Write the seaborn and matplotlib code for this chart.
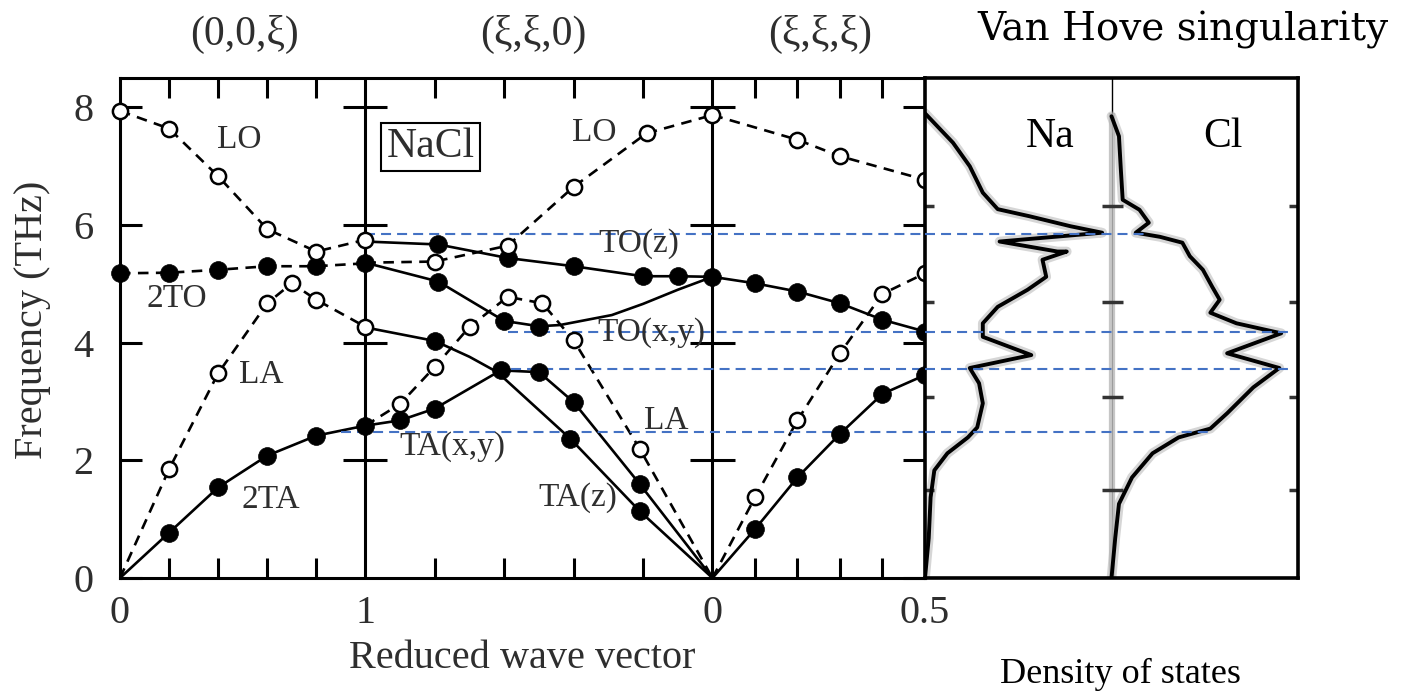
import numpy as np
import matplotlib.pyplot as plt
import seaborn as sns

W, H = 1406, 693
SQ2, SQ3 = np.sqrt(2), np.sqrt(3)

# ---- phonon branches, (0,0,xi): Gamma -> X ----
g1_lo_xi = [0, 0.2, 0.4, 0.6, 0.8, 1.0]
g1_lo_f = [7.94, 7.64, 6.83, 5.93, 5.55, 5.75]
g1_la_xi = [0, 0.2, 0.4, 0.6, 0.7, 0.8, 1.0]
g1_la_f = [0, 1.85, 3.48, 4.67, 5.01, 4.73, 4.27]
g1_to_xi = [0, 0.2, 0.4, 0.6, 0.8, 1.0]
g1_to_f = [5.18, 5.19, 5.24, 5.30, 5.30, 5.35]
g1_ta_xi = [0, 0.2, 0.4, 0.6, 0.8, 1.0]
g1_ta_f = [0, 0.77, 1.54, 2.08, 2.42, 2.59]

g1_full_xi = [0, 0.2, 0.4, 0.6, 0.8, 1.0, 0.2, 0.4, 0.6, 0.8, 1.0]
g1_full_f = [5.18, 5.19, 5.24, 5.30, 5.30, 5.35, 0.77, 1.54, 2.08, 2.42, 2.59]
g1_open_xi = [0, 0.2, 0.4, 0.6, 0.8, 1.0, 0.2, 0.4, 0.6, 0.7, 0.8, 1.0]
g1_open_f = [7.94, 7.64, 6.83, 5.93, 5.55, 5.75, 1.85, 3.48, 4.67, 5.01, 4.73, 4.27]

# ---- (xi,xi,0): X -> Gamma ----
g2_toz_xi = [1.0, 0.79, 0.59, 0.40, 0.20, 0.10, 0]
g2_toz_f = [5.72, 5.67, 5.44, 5.30, 5.13, 5.13, 5.12]
g2_toxy_xi = [1.0, 0.79, 0.60, 0.50, 0.44, 0.29, 0.20, 0.10, 0]
g2_toxy_f = [5.36, 5.04, 4.37, 4.28, 4.30, 4.47, 4.66, 4.90, 5.12]
g2_taz_xi = [1.0, 0.80, 0.70, 0.62, 0.41, 0.21, 0]
g2_taz_f = [4.26, 4.03, 3.76, 3.50, 2.37, 1.14, 0]
g2_taxy_xi = [1.0, 0.90, 0.80, 0.61, 0.50, 0.40, 0.21, 0]
g2_taxy_f = [2.59, 2.68, 2.88, 3.53, 3.50, 2.99, 1.60, 0]
g2_lo_xi = [1.0, 0.80, 0.59, 0.40, 0.19, 0]
g2_lo_f = [5.36, 5.38, 5.65, 6.65, 7.56, 7.87]
g2_la_xi = [1.0, 0.90, 0.80, 0.70, 0.59, 0.49, 0.40, 0.21, 0]
g2_la_f = [2.59, 2.96, 3.59, 4.27, 4.78, 4.67, 4.04, 2.20, 0]

g2_full_xi = [0.79, 0.59, 0.40, 0.20, 0.10, 0, 0.79, 0.60, 0.50, 0.80, 0.61, 0.50,
              0.40, 0.41, 0.21, 0.21, 0.90, 0.80]
g2_full_f = [5.67, 5.44, 5.30, 5.13, 5.13, 5.12, 5.04, 4.37, 4.27, 4.03, 3.53, 3.50,
             2.99, 2.37, 1.60, 1.14, 2.68, 2.88]
g2_open_xi = [0.80, 0.59, 0.40, 0.19, 0, 0.59, 0.49, 0.70, 0.80, 0.90, 0.40, 0.21]
g2_open_f = [5.38, 5.65, 6.65, 7.56, 7.87, 4.78, 4.67, 4.27, 3.59, 2.96, 4.04, 2.20]

# ---- (xi,xi,xi): Gamma -> L ----
g3_lo_xi = [0, 0.2, 0.3, 0.5]
g3_lo_f = [7.87, 7.45, 7.17, 6.77]
g3_la_xi = [0, 0.1, 0.2, 0.3, 0.4, 0.5]
g3_la_f = [0, 1.37, 2.68, 3.82, 4.83, 5.18]
g3_to_xi = [0, 0.1, 0.2, 0.3, 0.4, 0.5]
g3_to_f = [5.12, 5.01, 4.87, 4.67, 4.39, 4.19]
g3_ta_xi = [0, 0.1, 0.2, 0.3, 0.4, 0.5]
g3_ta_f = [0, 0.83, 1.71, 2.45, 3.13, 3.45]

g3_full_xi = [0.1, 0.2, 0.3, 0.4, 0.5, 0.1, 0.2, 0.3, 0.4, 0.5]
g3_full_f = [5.01, 4.87, 4.67, 4.39, 4.19, 0.83, 1.71, 2.45, 3.13, 3.45]
g3_open_xi = [0.2, 0.3, 0.5, 0.1, 0.2, 0.3, 0.4, 0.5]
g3_open_f = [7.45, 7.17, 6.77, 1.37, 2.68, 3.82, 4.83, 5.18]

# ---- density of states (arbitrary units, each half 0..1) ----
na_f = [7.90, 7.40, 7.00, 6.55, 6.27, 6.15, 5.98, 5.87, 5.72, 5.55, 5.55, 5.41, 5.12,
        4.90, 4.61, 4.33, 4.10, 3.79, 3.57, 3.31, 2.97, 2.56, 2.39, 2.12, 1.83, 1.37,
        0.68, 0.0]
na_dos = [0.0, 0.15, 0.24, 0.31, 0.39, 0.56, 0.78, 0.95, 0.40, 0.71, 0.76, 0.63, 0.65,
          0.55, 0.39, 0.31, 0.31, 0.57, 0.24, 0.29, 0.31, 0.28, 0.23, 0.12, 0.05, 0.03,
          0.02, 0.0]
cl_f = [7.85, 7.51, 6.95, 6.43, 6.26, 6.04, 5.87, 5.80, 5.70, 5.47, 5.24, 4.95, 4.73,
        4.51, 4.33, 4.16, 3.82, 3.57, 3.24, 2.80, 2.54, 2.39, 2.12, 1.71, 1.26, 0.68, 0.0]
cl_dos = [0.0, 0.04, 0.05, 0.06, 0.15, 0.20, 0.13, 0.26, 0.38, 0.42, 0.49, 0.54, 0.58,
          0.53, 0.67, 0.91, 0.62, 0.90, 0.76, 0.62, 0.53, 0.36, 0.22, 0.11, 0.04, 0.02,
          0.0]
dos_tick_f = [6.32, 4.70, 3.08, 1.50]

# Van Hove levels (THz) and where each guide line starts / stops
vh_f = [5.85, 4.18, 3.55, 2.48]
vh_start = [1.0, 1.58, 1.53, 0.90]
vh_stop_dos = [1.18, 1.97, 1.96, 1.54]

freq_ticks = [0, 2, 4, 6, 8]
x_tick_labels = ["0", "1", "0", "0.5"]


def path_x(seg, xi):
    xi = np.asarray(xi, dtype=float)
    if seg == 0:
        return xi
    if seg == 1:
        return 1 + SQ2 * (1 - xi)
    return 1 + SQ2 + SQ3 * xi


def px(x, y):
    return x / W, 1 - y / H


sns.set_theme(style="white")
plt.rcParams["font.family"] = ["Liberation Serif", "DejaVu Serif"]

TXT = "#2e2e2e"
DASH = (0, (4, 2.8))
X_END = 1 + SQ2 + SQ3 / 2

fig = plt.figure(figsize=(W / 100, H / 100), dpi=100)
ax = fig.add_axes([120 / W, 115 / H, 805 / W, 500 / H])
ax2 = fig.add_axes([925 / W, 115 / H, 373 / W, 500 / H])

branches = [
    (0, g1_lo_xi, g1_lo_f, DASH), (0, g1_la_xi, g1_la_f, DASH),
    (0, g1_to_xi, g1_to_f, DASH), (0, g1_ta_xi, g1_ta_f, "-"),
    (1, g2_toz_xi, g2_toz_f, "-"), (1, g2_toxy_xi, g2_toxy_f, "-"),
    (1, g2_taz_xi, g2_taz_f, "-"), (1, g2_taxy_xi, g2_taxy_f, "-"),
    (1, g2_lo_xi, g2_lo_f, DASH), (1, g2_la_xi, g2_la_f, DASH),
    (2, g3_lo_xi, g3_lo_f, DASH), (2, g3_la_xi, g3_la_f, DASH),
    (2, g3_to_xi, g3_to_f, "-"), (2, g3_ta_xi, g3_ta_f, "-"),
]
for seg, xi, f, ls in branches:
    sns.lineplot(x=path_x(seg, xi), y=f, sort=False, estimator=None, color="black",
                 linewidth=1.9, linestyle=ls, ax=ax, zorder=3)

for seg, xi, f in [(0, g1_full_xi, g1_full_f), (1, g2_full_xi, g2_full_f),
                   (2, g3_full_xi, g3_full_f)]:
    sns.scatterplot(x=path_x(seg, xi), y=f, s=165, color="black", edgecolor="black",
                    linewidth=0.5, ax=ax, zorder=5, clip_on=False)
for seg, xi, f in [(0, g1_open_xi, g1_open_f), (1, g2_open_xi, g2_open_f),
                   (2, g3_open_xi, g3_open_f)]:
    sns.scatterplot(x=path_x(seg, xi), y=f, s=120, color="white", edgecolor="black",
                    linewidth=1.8, ax=ax, zorder=6, clip_on=False)

# symmetry-point verticals and their cross ticks
for p in [1, 1 + SQ2]:
    ax.axvline(p, color="black", lw=2.2, zorder=2)
    ax.hlines(freq_ticks[1:], p - 0.09, p + 0.09, color="black", lw=2.2, zorder=2)

# Van Hove guide lines (blue, dashed) across both panels
blue = "#4472C4"
ax.hlines(vh_f, vh_start, X_END, color=blue, lw=1.5, linestyle=(0, (4.8, 2.9)), zorder=4)
ax2.hlines(vh_f, 0, vh_stop_dos, color=blue, lw=1.5, linestyle=(0, (4.8, 2.9)), zorder=4)

ax.set_xlim(0, X_END)
ax.set_ylim(0, 8.5)
ax.set_xticks([0, 1, 1 + SQ2, X_END], labels=x_tick_labels)
minor = np.concatenate([path_x(0, [0.2, 0.4, 0.6, 0.8]), path_x(1, [0.8, 0.6, 0.4, 0.2]),
                        path_x(2, [0.1, 0.2, 0.3, 0.4])])
ax.set_xticks(minor, minor=True)
ax.set_yticks(freq_ticks)
ax.tick_params(axis="x", which="major", length=0, pad=12, labelsize=29, labelcolor=TXT)
ax.tick_params(axis="x", which="minor", direction="in", length=14.5, width=2.2,
               top=True, bottom=True, color="black")
ax.tick_params(axis="y", direction="in", length=16, width=2.2, left=True, right=True,
               pad=19, labelsize=29, labelcolor=TXT, color="black")
for s in ax.spines.values():
    s.set_linewidth(2.2)
    s.set_color("black")
ax.set_xlabel("")
ax.set_ylabel("")

lab = dict(fontsize=24, color=TXT, ha="center", va="center", zorder=7)
ax.text(0.486, 7.45, "LO", **lab)
ax.text(0.233, 4.75, "2TO", **lab)
ax.text(0.576, 3.45, "LA", **lab)
ax.text(0.616, 1.33, "2TA", **lab)
ax.text(1.931, 7.57, "LO", **lab)
ax.text(2.114, 5.68, "TO(z)", **lab)
ax.text(2.167, 4.17, "TO(x,y)", **lab)
ax.text(1.355, 2.24, "TA(x,y)", **lab)
ax.text(2.224, 2.67, "LA", **lab)
ax.text(1.865, 1.37, "TA(z)", **lab)
ax.text(1.265, 7.33, "NaCl", fontsize=30, color=TXT, ha="center", va="center",
        bbox=dict(boxstyle="square,pad=0.12", fc="white", ec="black", lw=1.5), zorder=7)

# ---- density-of-states panel ----
for xs, f, base in [(na_dos, na_f, 0.0), (cl_dos, cl_f, 1.0)]:
    xv = base + np.asarray(xs)
    sns.lineplot(x=xv, y=f, sort=False, estimator=None, color="#b5b5b5", linewidth=7,
                 alpha=0.55, ax=ax2, zorder=2)
    sns.lineplot(x=xv, y=f, sort=False, estimator=None, color="black", linewidth=2.8,
                 ax=ax2, zorder=3)
ax2.vlines(1.0, 0, 7.9, color="#c6c6c6", lw=4.5, zorder=1)
ax2.vlines(1.0, 0, 7.9, color="#9c9c9c", lw=0.8, zorder=1)
ax2.vlines(1.0, 7.9, 8.5, color="black", lw=1.0, zorder=1)
ax2.hlines(dos_tick_f, 0, 0.05, color="#333333", lw=2.5)
ax2.hlines(dos_tick_f, 0.95, 1.06, color="#333333", lw=2.5)
ax2.hlines(dos_tick_f, 1.95, 2.0, color="#333333", lw=2.5)
ax2.set_xlim(0, 2)
ax2.set_ylim(0, 8.5)
ax2.set_xticks([])
ax2.set_yticks([])
for s in ax2.spines.values():
    s.set_linewidth(2.6)
    s.set_color("black")
ax2.text(0.67, 7.5, "Na", fontsize=30, color="black", ha="center", va="center")
ax2.text(1.60, 7.5, "Cl", fontsize=30, color="black", ha="center", va="center")

# ---- outer labels ----
fig.text(*px(33, 320), "Frequency (THz)", rotation=90, fontsize=29, color=TXT,
         ha="center", va="center")
fig.text(*px(522, 658), "Reduced wave vector", fontsize=29, color=TXT,
         ha="center", va="center")
fig.text(*px(1120, 674), "Density of states", fontsize=26, color="black",
         ha="center", va="center")
for xc, t in [(245, "(0,0,ξ)"), (533, "(ξ,ξ,0)"), (820, "(ξ,ξ,ξ)")]:
    fig.text(*px(xc, 34), t, fontsize=30, color=TXT, ha="center", va="center")
fig.text(*px(1183, 30), "Van Hove singularity", fontsize=28, color="black",
         ha="center", va="center", family=["DejaVu Serif"])

fig.savefig("out.png", dpi=100)
